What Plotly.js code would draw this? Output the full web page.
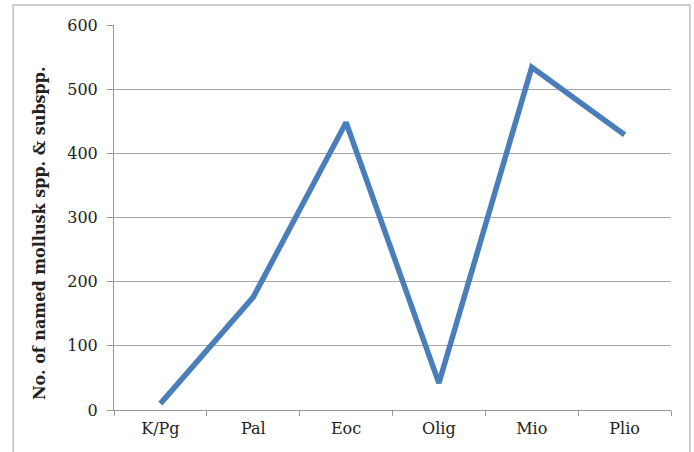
<!DOCTYPE html>
<html><head><meta charset="utf-8">
<script src="https://cdn.plot.ly/plotly-3.0.1.min.js"></script>
<style>html,body{margin:0;padding:0;background:#fff}</style>
</head><body>
<div id="chart" style="width:694px;height:452px"></div>
<script>
const categories = ["K/Pg", "Pal", "Eoc", "Olig", "Mio", "Plio"];
const counts = [10, 176, 448, 42, 534, 429];
const yTicks = [0, 100, 200, 300, 400, 500, 600];
const yTitle = "No. of named mollusk spp. & subspp.";

const serif = "DejaVu Serif, Liberation Serif, serif";
const trace = {
  x: categories, y: counts, type: "scatter", mode: "lines",
  line: {color: "#4a7ebb", width: 5.5, shape: "linear"},
  hoverinfo: "skip"
};
const layout = {
  width: 694, height: 452,
  margin: {l: 114, r: 23, t: 25, b: 42},
  paper_bgcolor: "#fff", plot_bgcolor: "#fff",
  showlegend: false,
  xaxis: {
    type: "category", range: [-0.5, 5.5], tickson: "boundaries", ticks: "outside", ticklen: 5,
    tickcolor: "#999", showline: true, linecolor: "#999", linewidth: 1,
    showgrid: false, zeroline: false, ticklabelstandoff: 4,
    tickfont: {family: serif, size: 16, color: "#222"}
  },
  yaxis: {
    range: [0, 600], tickvals: yTicks, ticks: "outside", ticklen: 6,
    tickcolor: "#999", showline: true, linecolor: "#999", linewidth: 1,
    showgrid: true, gridcolor: "#a6a6a6", gridwidth: 1, zeroline: false,
    ticklabelstandoff: 6,
    tickfont: {family: serif, size: 16, color: "#222"}
  },
  annotations: [{
    text: "<b>" + yTitle + "</b>", textangle: -90, showarrow: false,
    xref: "paper", yref: "paper", x: (40 - 114) / 557, y: (410 - 233) / 385,
    xanchor: "center", yanchor: "middle",
    font: {family: serif, size: 16, color: "#222"}
  }],
  shapes: [{
    type: "rect", xref: "paper", yref: "paper",
    x0: -0.181, x1: 1.034, y0: -0.2, y1: 1.052,
    line: {color: "#c0c0c0", width: 1.5}, fillcolor: "rgba(0,0,0,0)", layer: "below"
  }]
};
Plotly.newPlot("chart", [trace], layout, {staticPlot: true, displayModeBar: false});
</script>
</body></html>
